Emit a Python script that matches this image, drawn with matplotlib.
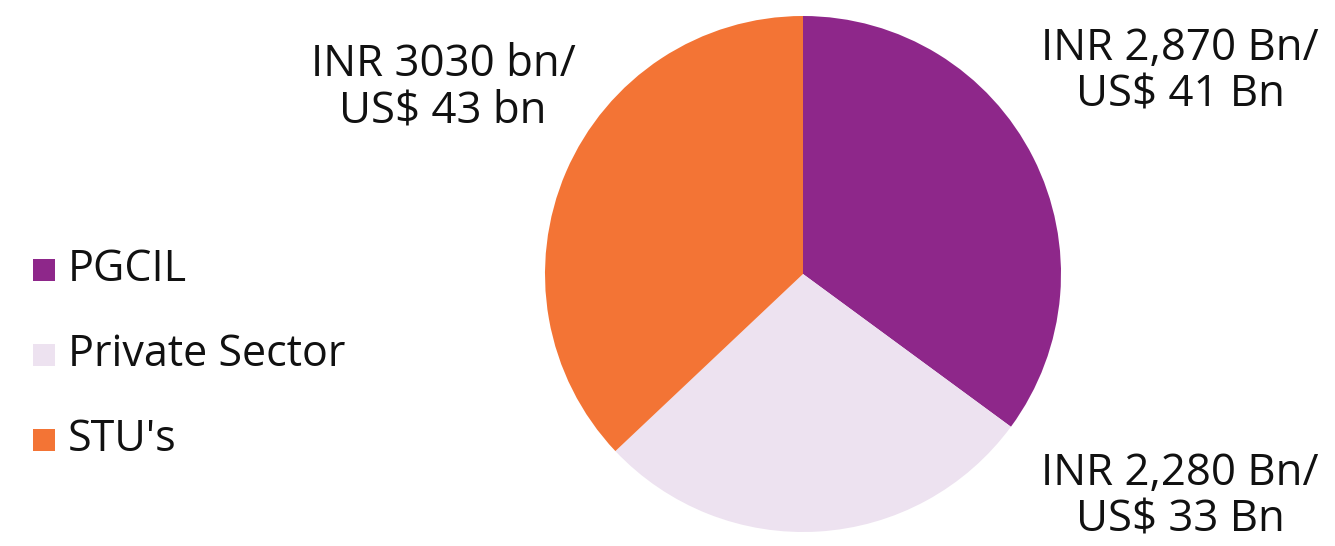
import matplotlib
matplotlib.use("Agg")
import matplotlib.pyplot as plt
from matplotlib.patches import Rectangle

categories = ["PGCIL", "Private Sector", "STU's"]
values = [2870, 2280, 3030]
labels = ["INR 2,870 Bn/\nUS$ 41 Bn", "INR 2,280 Bn/\nUS$ 33 Bn", "INR 3030 bn/\nUS$ 43 bn"]
colors = ["#8E278A", "#EDE2F0", "#F37435"]

plt.rcParams['font.family'] = ['Open Sans', 'DejaVu Sans']

W, H = 1335, 546
fig = plt.figure(figsize=(W / 100, H / 100), dpi=100)
ax = fig.add_axes([0, 0, 1, 1])

cx, cy, r = 803, 274, 258
ax.pie(values, colors=colors, startangle=90, counterclock=False,
       center=(cx, H - cy), radius=r, frame=True,
       wedgeprops=dict(linewidth=0))
ax.set_xlim(0, W)
ax.set_ylim(0, H)
ax.set_aspect('equal')
ax.axis('off')

label_pos = [(1180, 72), (1180, 497), (443, 88)]
for (x, y), t in zip(label_pos, labels):
    ax.text(x, H - y, t, ha='center', va='center', fontsize=31.5, color='#111111',
            linespacing=1.08)

leg_y = [270, 355, 440]
for c, name, y in zip(colors, categories, leg_y):
    ax.add_patch(Rectangle((33, H - y - 11), 22, 22, color=c, lw=0))
    ax.text(68, H - y, name, ha='left', va='center', fontsize=31, color='#111111')

fig.savefig("out.png", dpi=100)
